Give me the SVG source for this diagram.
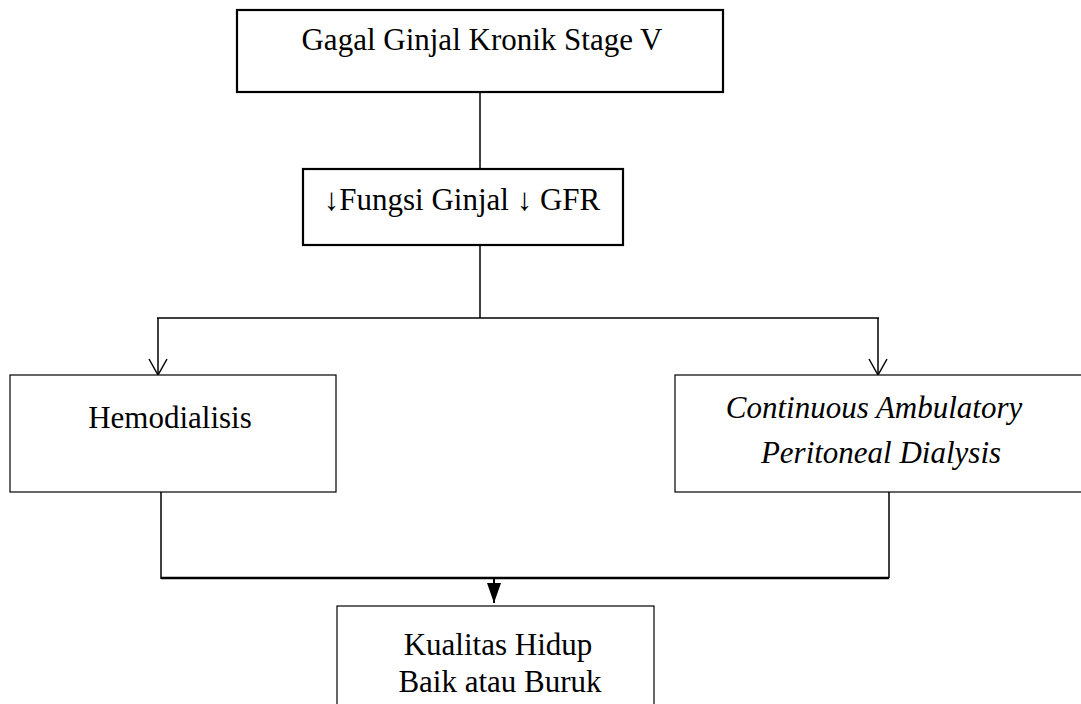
<svg xmlns="http://www.w3.org/2000/svg" width="1081" height="704" viewBox="0 0 1081 704">
<defs>
<style>
.t{font-family:"Liberation Serif","Times New Roman",serif;font-size:31px;fill:#000;text-anchor:middle}
.i{font-style:italic}
.thick{fill:#fff;stroke:#000;stroke-width:2.2}
.thin{fill:#fff;stroke:#000;stroke-width:1.2}
.c{fill:none;stroke:#000;stroke-width:1.5}
</style>
<marker id="open" viewBox="0 0 20 20" refX="18" refY="10" markerWidth="20" markerHeight="20" markerUnits="userSpaceOnUse" orient="auto">
<path d="M2,1 L18,10 L2,19" fill="none" stroke="#000" stroke-width="1.5"/>
</marker>
<marker id="solid" viewBox="0 0 20 14" refX="20" refY="7" markerWidth="20" markerHeight="14" markerUnits="userSpaceOnUse" orient="auto">
<path d="M0,0 L20,7 L0,14 Z" fill="#000"/>
</marker>
</defs>
<g id="connectors">
<line class="c" x1="480" y1="92" x2="480" y2="169"/>
<line class="c" x1="480" y1="245" x2="480" y2="318"/>
<line class="c" x1="157" y1="318" x2="879" y2="318"/>
<path class="c" d="M158,318 L158,375" marker-end="url(#open)"/>
<path class="c" d="M878,318 L878,375" marker-end="url(#open)"/>
<line class="c" x1="161" y1="492" x2="161" y2="579"/>
<line class="c" x1="889" y1="492" x2="889" y2="578"/>
<line x1="161" y1="578" x2="889" y2="578" stroke="#000" stroke-width="2.5"/>
<path d="M494,578 L494,603" stroke="#000" stroke-width="2" fill="none" marker-end="url(#solid)"/>
</g>
<g id="node-ggk">
<rect class="thick" x="237" y="10" width="486" height="82"/>
<text class="t" x="482" y="50">Gagal Ginjal Kronik Stage V</text>
</g>
<g id="node-fungsi">
<rect class="thick" x="303" y="169" width="320" height="76"/>
<text class="t" x="462" y="210">↓Fungsi Ginjal ↓ GFR</text>
</g>
<g id="node-hd">
<rect class="thin" x="10" y="375" width="326" height="117"/>
<text class="t" x="170" y="428">Hemodialisis</text>
</g>
<g id="node-capd">
<rect class="thin" x="675" y="375" width="420" height="117"/>
<text class="t i" x="874" y="418">Continuous Ambulatory</text>
<text class="t i" x="881" y="463">Peritoneal Dialysis</text>
</g>
<g id="node-kh">
<rect class="thin" x="337" y="606" width="317" height="110"/>
<text class="t" x="498" y="655">Kualitas Hidup</text>
<text class="t" x="500" y="692">Baik atau Buruk</text>
</g>
</svg>
